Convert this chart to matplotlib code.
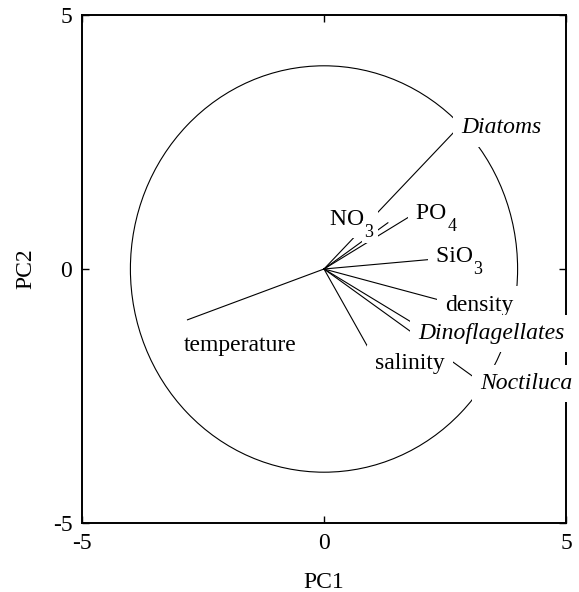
import matplotlib
matplotlib.use("Agg")
import matplotlib.pyplot as plt
from matplotlib.patches import Circle

plt.rcParams["font.family"] = ["Liberation Serif", "DejaVu Serif"]
plt.rcParams["axes.unicode_minus"] = False

# loadings (end of each vector)
names = ["temperature", "Diatoms", "NO", "PO", "SiO", "density",
         "Dinoflagellates", "salinity", "Noctiluca"]
subs = ["", "", "3", "4", "3", "", "", "", ""]
pc1 = [-2.82, 2.72, 1.32, 1.85, 2.22, 2.42, 1.90, 0.92, 3.20]
pc2 = [-1.00, 2.73, 0.91, 1.08, 0.19, -0.62, -1.10, -1.56, -2.20]
italic = [False, True, False, False, False, False, True, False, True]

# where the names sit (left end, baseline)
lab_x = [-2.89, 2.84, 0.12, 1.91, 2.31, 2.51, 1.94, 1.05, 3.22]
lab_y = [-1.61, 2.67, 0.87, 0.99, 0.14, -0.82, -1.38, -1.97, -2.36]

radius = 4
ticks = [-5, 0, 5]

fig = plt.figure(figsize=(5.79, 5.92), dpi=100)
ax = fig.add_axes([82 / 579, 69 / 592, 484 / 579, 508 / 592])

ax.add_patch(Circle((0, 0), radius, fill=False, color="black", lw=0.8, zorder=1))

for x, y in zip(pc1, pc2):
    ax.plot([0, x], [0, y], color="black", lw=0.8, zorder=2)

box = dict(facecolor="white", edgecolor="none", pad=6)
for name, sub, x, y, it in zip(names, subs, lab_x, lab_y, italic):
    # trailing space widens the white box under the subscript
    t = ax.text(x, y, name + (" " if sub else ""), fontsize=17, ha="left",
                va="baseline", style="italic" if it else "normal",
                zorder=3, bbox=box)
    if sub:
        ax.annotate(sub, xy=(1, 0), xycoords=t, xytext=(-3.8, -5),
                    textcoords="offset points", fontsize=13, ha="left",
                    va="baseline", zorder=4,
                    bbox=dict(facecolor="white", edgecolor="none", pad=2))

ax.set_xlim(-5, 5)
ax.set_ylim(-5, 5)
ax.set_xticks(ticks)
ax.set_yticks(ticks)
ax.tick_params(direction="in", length=5, width=1, top=True, right=True,
               labelsize=17, pad=7)
for s in ax.spines.values():
    s.set_linewidth(1.4)

ax.set_xlabel("PC1", fontsize=17, labelpad=13)
ax.set_ylabel("PC2", fontsize=17, labelpad=12)

fig.savefig("out.png", dpi=100)
